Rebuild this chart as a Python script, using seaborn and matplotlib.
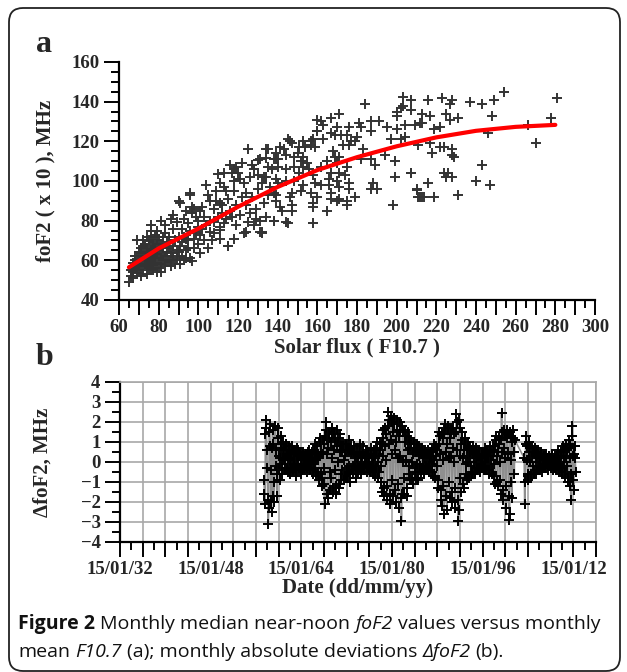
import numpy as np
import pandas as pd
import matplotlib
matplotlib.use("Agg")
import matplotlib.pyplot as plt
import matplotlib.dates as mdates
from matplotlib.ticker import MultipleLocator, FixedLocator, FuncFormatter
from matplotlib.patches import FancyBboxPatch
import seaborn as sns

# ---- panel a : monthly median foF2 (x10) vs monthly mean F10.7 ----
flux = [216, 223, 228, 227, 237, 243, 249, 254, 281,
        213, 217, 225, 227, 231, 248, 278,
        213, 219, 222, 246, 266, 270,
        217, 222, 224, 228, 218, 228, 229, 243,
        224, 226, 225, 228, 216, 240, 247, 213, 219, 231, 210, 211, 207,
        184, 203, 207, 203, 202, 200, 200, 207,
        171, 167, 162, 163, 160, 170, 169, 172, 175, 176, 181, 182, 187, 191, 187,
        195, 197, 200, 204, 209, 212, 202, 204, 211, 180, 179, 177, 163, 167,
        145, 147, 153, 157, 157, 159, 141, 143, 135, 151, 154,
        148, 153, 139, 140, 131, 168, 169, 171, 173, 176,
        183, 182, 187, 189, 194, 199, 207, 199, 210, 212, 214, 198, 187, 188, 190,
        137, 140, 144, 148, 152, 153, 151, 156, 158, 162, 165, 167, 170, 171, 174, 175, 166, 170,
        133, 134, 139, 140, 144, 148, 153, 159, 162, 166, 171, 176, 176,
        138, 139, 139, 147, 146, 152, 157, 160, 167, 167, 171, 170, 175, 179, 175,
        133, 141, 142, 147, 158, 158, 165, 147,
        131, 138, 145, 158, 132,
        130, 134, 138, 127,
        113, 118, 120, 118, 123, 114, 111, 104, 96, 90, 91,
        106, 109, 111, 102, 97, 97, 99, 94, 87, 86, 81, 76, 79, 83, 89, 92, 96, 100, 104,
        108, 111, 114, 116, 119, 124, 126, 129, 134, 129, 128, 132, 123, 118, 115, 111, 106,
        69, 74, 76, 79, 81, 84, 72, 71, 68, 67, 70, 72, 76, 77, 79, 82, 86, 87, 89, 91,
        92, 94, 96, 97, 86, 81, 76, 74, 71, 69, 67, 65, 66, 77, 84, 75,
        96, 110, 117, 119, 125, 134, 146, 158, 160, 160, 144, 138, 131, 124, 125,
        115, 111, 101, 94, 91, 79,
        66, 67, 68, 68, 69, 69, 70, 70, 70, 71, 71, 72, 72, 72, 73, 73, 73, 74, 74, 74,
        75, 75, 75, 76, 76, 76, 77, 77, 77, 78, 78, 78, 78, 79, 79, 80, 80, 80, 80, 81,
        81, 82, 82, 83, 83, 84, 85, 85, 86, 87, 88, 88, 89, 90, 91, 92, 93, 93, 95, 95,
        98, 98, 100, 101, 103, 105, 107, 108, 110, 112, 113, 117, 119, 121, 122, 124,
        127, 130, 132, 135, 136, 118, 115, 112, 108, 103, 100, 98, 95, 93, 85, 83, 87,
        90, 94, 99, 102, 106, 101, 105, 109, 113, 121, 116, 126, 128, 122, 130, 135,
        139, 144, 150, 155]
fof2 = [141, 142, 141, 139, 140, 139, 141, 145, 142,
        134, 133, 134, 131, 132, 133, 132,
        129, 126, 127, 124, 128, 119,
        119, 117, 117, 116, 114, 113, 112, 108,
        104, 104, 102, 102, 99, 100, 98, 92, 92, 93, 95.5, 92, 104,
        139, 142.5, 141, 138, 137, 135, 133, 136,
        134, 132, 130, 128, 125, 127, 123, 123, 123, 127, 129, 127, 130, 130, 125,
        127, 121, 126, 128, 128, 129, 121, 122, 118, 122, 120, 120, 121, 124,
        121, 119, 120, 120, 118, 117, 117, 116, 116, 117, 117,
        112, 112, 111, 111, 111, 115, 112, 112, 118, 118,
        116, 111, 111, 108, 113, 110, 104, 102, 96, 92, 92, 88, 96, 99, 96,
        106, 107, 106, 107, 110, 107, 104, 106, 103, 107, 110, 104, 109, 104, 103, 107, 101, 100,
        102, 102, 101, 99, 100, 100, 98, 99, 98, 98, 97, 99, 96,
        94, 93, 90, 94, 92, 95, 94, 92, 94, 91, 91, 90, 90, 92, 88,
        89, 87, 85, 88, 89, 87, 85, 85,
        80, 80, 79, 79, 74,
        110.6, 111.5, 111, 108,
        104, 106, 104, 100, 99, 95, 99, 98, 93, 90, 89,
        90, 90, 89, 87, 87, 84, 82, 85, 83, 81, 80, 78, 75, 74, 79.5, 76, 75, 77, 78,
        79.5, 77, 81, 85, 88, 88, 84, 86, 82, 81, 78, 74.5, 74, 71, 67, 71, 74.5,
        70, 72, 75, 72, 68, 69, 67, 63.5, 62, 58.5, 57, 60, 65, 62, 58.5, 60, 63.5, 67, 65, 67,
        62, 65, 61, 59.5, 57, 54, 55, 53, 52, 53.5, 51, 49, 52, 57.5, 60, 63.5,
        94, 103.5, 104, 107, 116, 116, 120, 121, 131, 125, 79.5, 80, 74.5, 74.5, 79.5,
        67, 75.5, 63.5, 61, 60, 54,
        55, 54, 56, 60, 58, 62, 55, 60, 64, 57, 66, 55, 62, 70, 58, 64, 68, 57, 61, 66,
        56, 59, 70, 60, 67, 72, 55, 64, 69, 58, 61, 66, 73, 63, 68, 56, 61, 65, 70, 58,
        63, 66, 72, 57, 62, 64, 59, 66, 60, 62, 58, 70, 61, 64, 58, 69, 60, 72, 66, 70,
        66, 71, 68, 73, 70, 66, 70, 74, 82, 84, 79, 82, 78, 83, 92, 94,
        92, 96, 99, 93, 97, 95, 91, 88, 86, 82, 80, 86, 79, 81, 72, 78, 76,
        72, 71, 74, 76, 80, 85, 93, 95, 97, 101, 108, 102, 106, 109, 103, 107,
        114, 113, 114, 109]

# red fit curve
fit_flux = [65, 80, 100, 120, 140, 160, 180, 200, 220, 240, 260, 280]
fit_fof2 = [56.5, 66, 76, 87, 97, 105.5, 112, 117.5, 122, 125.3, 127.3, 128.3]

# ---- panel b : monthly deviations dfoF2, MHz ----
# May 1957 .. Aug 2001 (monthly)
dev_1957 = [
    -0.9, -1.6, -2.1, 1.4, 2.1, 1.7, 0.6, -0.3,
    -1.9, -3.1, -2.3, 1.5, 1.9, 0.8, -0.4, -2.0, -2.5, 0.7, 1.6, 0.9,
    -1.7, -2.0, -1.0, 1.8, 1.8, 0.6, -0.2, -1.7, -0.6, 1.7, 1.2, 0.3,
    -0.3, -0.9, 0.2, 1.3, 0.9, 0.7, -0.1, -0.6, 0.4, 1.0, 0.7, 0.2,
    -0.4, 0.1, 0.6, 0.9, 0.3, -0.3, -0.5, 0.2, 0.8, 0.6, 0.1, -0.5,
    -0.6, -0.2, 0.5, 0.8, 0.4, -0.1, -0.4, 0.1, 0.6, 0.5, -0.2, -0.7,
    -0.5, 0.2, 0.7, 0.6, 0.3, -0.2, -0.3, 0.3, 0.5, 0.4, -0.1, -0.6,
    -0.4, 0.1, 0.4, 0.5, 0.1, -0.3, -0.2, 0.2, 0.4, 0.3, -0.2, -0.5,
    -0.3, 0.0, 0.5, 0.6, 0.2, -0.1, -0.4, 0.0, 0.3, 0.5, 0.1, -0.4,
    -0.6, -0.1, 0.6, 0.9, 0.4, -0.3, -0.7, 0.1, 0.5, 0.8, 0.2, -0.5,
    -0.9, 0.3, 1.0, 1.2, 0.5, -0.6, -1.2, -0.8, 0.4, 1.1, 0.9, -0.3,
    -1.1, -2.1, 1.3, 2.0, 1.6, 0.4, -1.6, -1.8, 0.7, 1.5, 1.2, -0.5,
    -1.4, -0.8, 1.0, 1.7, 1.4, 0.2, -1.5, -1.3, 0.6, 1.5, 1.1, -0.4,
    -1.2, -1.6, 0.8, 1.6, 1.2, 0.0, -1.3, -1.1, 0.5, 1.4, 0.9, -0.6,
    -0.9, -0.4, 0.6, 1.0, 0.8, 0.1, -0.9, -0.7, 0.3, 0.9, 0.6, -0.3,
    -0.8, -0.5, 0.7, 1.1, 0.6, -0.2, -1.0, -0.6, 0.4, 0.8, 0.5, -0.4,
    -0.6, -0.2, 0.5, 0.8, 0.4, -0.1, -0.8, -0.4, 0.2, 0.7, 0.3, -0.3,
    -0.5, -0.3, 0.4, 0.9, 0.5, 0.0, -0.6, -0.3, 0.3, 0.8, 0.4, -0.2,
    -0.4, -0.1, 0.3, 0.6, 0.3, -0.1, -0.5, -0.2, 0.2, 0.5, 0.2, -0.3,
    -0.5, -0.2, 0.4, 0.7, 0.2, -0.2, -0.6, -0.1, 0.3, 0.6, 0.3, -0.4,
    -0.7, -0.3, 0.6, 1.0, 0.7, 0.0, -0.8, -0.5, 0.4, 0.9, 0.6, -0.2,
    -1.0, -1.5, 0.9, 1.6, 1.2, 0.3, -1.3, -1.7, 0.8, 1.7, 1.4, 0.1,
    -1.2, -1.9, 1.8, 2.5, 2.1, 0.9, -1.6, -2.1, 1.1, 2.3, 2.0, 0.4,
    -0.9, -1.7, 1.5, 2.2, 1.9, 0.6, -1.4, -2.0, 1.0, 2.1, 1.6, 0.2,
    -1.1, -2.3, 1.3, 2.0, 1.6, 0.3, -1.8, -2.95, -1.6, 1.8, 1.5, 0.0,
    -0.8, -1.6, 1.0, 1.6, 1.3, 0.1, -1.3, -1.7, 0.6, 1.5, 1.2, -0.2,
    -0.6, -0.9, 0.7, 1.1, 0.9, 0.0, -0.9, -1.1, 0.4, 1.0, 0.7, -0.3,
    -0.5, -0.8, 0.5, 0.9, 0.6, -0.1, -0.8, -0.9, 0.3, 0.8, 0.5, -0.2,
    -0.4, -0.5, 0.4, 0.7, 0.4, -0.1, -0.6, -0.5, 0.2, 0.6, 0.4, -0.2,
    -0.3, -0.4, 0.3, 0.6, 0.4, 0.0, -0.5, -0.4, 0.2, 0.5, 0.3, -0.1,
    -0.5, -0.7, 0.5, 0.9, 0.7, 0.1, -0.7, -0.8, 0.3, 0.8, 0.6, -0.2,
    -0.9, -1.3, 0.9, 1.5, 1.3, 0.4, -1.4, -1.9, -2.2, 1.4, 1.2, 0.1,
    -1.2, -2.6, 1.4, 1.9, 1.7, 0.5, -1.7, -2.4, 0.9, 1.8, 1.6, 0.2,
    -1.0, -1.8, 1.2, 1.7, 1.5, 0.3, -1.5, -2.0, 0.7, 1.7, 1.4, 0.0,
    -1.3, -2.3, 1.5, 2.4, 2.0, 0.6, -1.9, -2.95, -2.4, 2.1, 1.7, 0.3,
    -0.8, -1.5, 0.9, 1.5, 1.1, 0.2, -1.1, -1.3, 0.6, 1.2, 0.9, -0.1,
    -0.6, -0.9, 0.6, 1.0, 0.7, 0.0, -0.7, -0.8, 0.3, 0.8, 0.6, -0.2,
    -0.5, -0.6, 0.4, 0.8, 0.5, 0.0, -0.6, -0.5, 0.2, 0.7, 0.4, -0.3,
    -0.4, -0.3, 0.3, 0.6, 0.3, -0.1, -0.5, -0.3, 0.1, 0.5, 0.3, -0.2,
    -0.3, -0.4, 0.4, 0.7, 0.4, 0.0, -0.4, -0.3, 0.2, 0.6, 0.3, -0.2,
    -0.4, -0.6, 0.5, 0.8, 0.6, 0.1, -0.6, -0.5, 0.3, 0.8, 0.6, -0.1,
    -0.7, -1.1, 0.8, 1.3, 1.1, 0.3, -1.0, -1.2, 0.5, 1.2, 0.9, 0.0,
    -0.9, -1.6, 1.1, 2.45, 1.5, 0.5, -1.4, -1.9, 0.7, 1.6, 1.3, 0.2,
    -1.2, -2.3, 1.2, 1.6, 1.4, 0.4, -1.7, -2.9, -2.6, 1.5, 1.3, 0.1,
    -1.0, -1.8, 1.0, 1.6, 1.2, 0.5, -0.6, 1.1]
# May 2003 .. Jun 2012 (monthly)
dev_2003 = [
    0.2, -2.1, -1.0, 0.9, 1.3, 0.8, 0.1, -0.6,
    -0.9, -0.7, 0.5, 1.0, 0.7, 0.0, -0.8, -0.6, 0.3, 0.8, 0.5, -0.2,
    -0.6, -0.5, 0.4, 0.7, 0.5, 0.0, -0.6, -0.4, 0.2, 0.6, 0.4, -0.2,
    -0.4, -0.3, 0.2, 0.5, 0.3, -0.1, -0.5, -0.3, 0.1, 0.4, 0.2, -0.3,
    -0.3, -0.2, 0.2, 0.4, 0.2, -0.1, -0.4, -0.2, 0.1, 0.3, 0.1, -0.2,
    -0.3, -0.1, 0.3, 0.4, 0.1, -0.2, -0.4, -0.3, 0.0, 0.3, 0.2, -0.2,
    -0.4, -0.2, 0.3, 0.6, 0.3, -0.1, -0.5, -0.3, 0.2, 0.5, 0.3, -0.3,
    -0.6, -0.4, 0.5, 0.8, 0.6, 0.0, -0.7, -0.5, 0.3, 0.9, 0.6, -0.2,
    -0.8, -1.0, 0.7, 1.1, 0.9, 0.2, -1.2, -1.9, -0.6, 1.8, 1.3, 0.3,
    -0.9, -1.4, 0.4, 0.8, 0.2, -0.5]

dates = (list(pd.date_range("1957-05-15", periods=len(dev_1957), freq="MS") + pd.Timedelta(days=14))
         + list(pd.date_range("2003-05-01", periods=len(dev_2003), freq="MS") + pd.Timedelta(days=14)))
dev = pd.DataFrame({"date": dates, "dfof2": dev_1957 + dev_2003})

W, H = 627, 672
sns.set_theme(style="white")
plt.rcParams["font.family"] = ["Liberation Serif", "DejaVu Serif"]
plt.rcParams["font.weight"] = "bold"
plt.rcParams["axes.labelweight"] = "bold"

fig = plt.figure(figsize=(W / 100, H / 100), dpi=100)

def frac(left, top, right, bottom):
    return [left / W, 1 - bottom / H, (right - left) / W, (bottom - top) / H]

# panel a
ax1 = fig.add_axes(frac(119, 62, 595, 300))
sns.scatterplot(x=flux, y=fof2, marker="+", color="#333333", s=50, linewidth=1.4, ax=ax1)
sns.lineplot(x=fit_flux, y=fit_fof2, color="red", lw=3, ax=ax1)
ax1.set_xlim(60, 300)
ax1.set_ylim(40, 160)
ax1.xaxis.set_major_locator(MultipleLocator(10))
ax1.xaxis.set_minor_locator(MultipleLocator(5))
ax1.xaxis.set_major_formatter(FuncFormatter(lambda v, p: f"{v:.0f}" if round(v) % 20 == 0 else ""))
ax1.yaxis.set_major_locator(MultipleLocator(20))
ax1.yaxis.set_minor_locator(MultipleLocator(5))
sns.despine(ax=ax1)
for s in ["left", "bottom"]:
    ax1.spines[s].set_color("black")
    ax1.spines[s].set_linewidth(1.6)
ax1.tick_params(which="major", direction="out", length=11, width=1.4, color="black",
                labelsize=13.5, bottom=True, left=True, pad=3)
ax1.tick_params(which="minor", direction="out", length=6, width=1.4, color="black",
                bottom=True, left=True)
ax1.set_xlabel("Solar flux ( F10.7 )", fontsize=15, labelpad=1)
ax1.set_ylabel("foF2 ( x 10 ), MHz", fontsize=15)
ax1.yaxis.set_label_coords(-0.134, 0.5)

# panel b
ax2 = fig.add_axes(frac(120, 382, 596, 542))
sns.lineplot(data=dev, x="date", y="dfof2", color="#8f8f8f", lw=1.2, ax=ax2)
sns.scatterplot(data=dev, x="date", y="dfof2", marker="+", color="black", s=45,
                linewidth=1.4, ax=ax2, zorder=3)
ax2.set_xlim(pd.Timestamp("1932-01-15"), pd.Timestamp("2016-01-15"))
ax2.set_ylim(-4, 4)
major_dates = [pd.Timestamp(f"{y}-01-15") for y in range(1932, 2017, 4)]
minor_dates = [pd.Timestamp(f"{y}-01-15") for y in range(1934, 2016, 4)]
ax2.xaxis.set_major_locator(FixedLocator(mdates.date2num(major_dates)))
ax2.xaxis.set_minor_locator(FixedLocator(mdates.date2num(minor_dates)))

def date_label(v, p):
    d = mdates.num2date(v)
    return d.strftime("%d/%m/%y") if (d.year - 1932) % 16 == 0 and d.year < 2016 else ""

ax2.xaxis.set_major_formatter(FuncFormatter(date_label))
ax2.yaxis.set_major_locator(MultipleLocator(1))
ax2.yaxis.set_minor_locator(MultipleLocator(0.5))
ax2.grid(True, which="major", color="#a8a8a8", lw=1.2)
for s in ["top", "right"]:
    ax2.spines[s].set_color("#a8a8a8")
    ax2.spines[s].set_linewidth(1.2)
for s in ["left", "bottom"]:
    ax2.spines[s].set_color("black")
    ax2.spines[s].set_linewidth(1.6)
ax2.tick_params(which="major", direction="out", length=11, width=1.4, color="black",
                labelsize=13.5, bottom=True, left=True, pad=3)
ax2.tick_params(which="minor", direction="out", length=6, width=1.4, color="black",
                bottom=True, left=True)
ax2.set_xlabel("Date (dd/mm/yy)", fontsize=15, labelpad=0)
ax2.set_ylabel("\u0394foF2, MHz", fontsize=15)
ax2.yaxis.set_label_coords(-0.141, 0.5)

# panel letters
fig.text(44 / W, 1 - 52 / H, "a", fontsize=23, fontweight="bold", ha="center", va="baseline")
fig.text(44 / W, 1 - 365 / H, "b", fontsize=23, fontweight="bold", ha="center", va="baseline")

# caption with mixed styles
cap_font = ["Open Sans", "DejaVu Sans"]
cap_size = 14.0
renderer = fig.canvas.get_renderer()

def text_w(s, **kw):
    t = fig.text(0, 0, s, fontsize=cap_size, family=cap_font, **kw)
    w = t.get_window_extent(renderer=renderer).width
    t.remove()
    return w

space_w = text_w("x x", fontweight="normal") - text_w("xx", fontweight="normal")

def caption_line(x_px, base_px, pieces):
    x = x_px
    for i, (s, style) in enumerate(pieces):
        if i > 0:
            x += space_w
        kw = {"fontweight": "normal", "fontstyle": "normal"}
        if style == "b":
            kw["fontweight"] = "bold"
        elif style == "i":
            kw["fontstyle"] = "italic"
        t = fig.text(x / W, 1 - base_px / H, s, fontsize=cap_size, family=cap_font,
                     va="baseline", ha="left", color="#111111", **kw)
        x += t.get_window_extent(renderer=renderer).width

caption_line(18, 629, [("Figure 2", "b"), ("Monthly median near-noon", "n"), ("foF2", "i"),
                       ("values versus monthly", "n")])
caption_line(18, 657, [("mean", "n"), ("F10.7", "i"), ("(a); monthly absolute deviations", "n"),
                       ("\u0394foF2", "i"), ("(b).", "n")])

# rounded frame around the figure
box = FancyBboxPatch((9, 1), 611, 663, boxstyle="round,pad=0,rounding_size=14",
                     transform=None, fill=False, ec="#222222", lw=1.3)
fig.add_artist(box)

fig.savefig("out.png", dpi=100)
